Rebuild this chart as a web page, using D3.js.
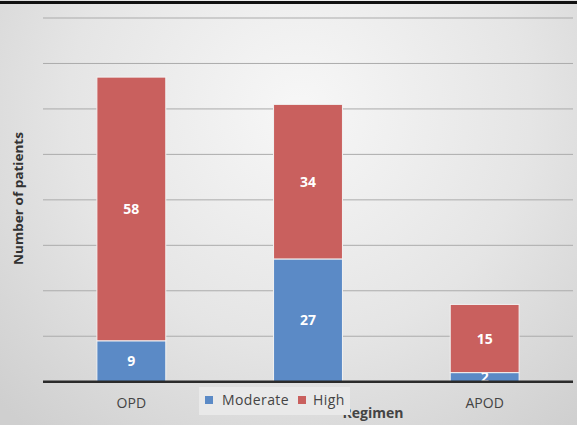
<!DOCTYPE html>
<html>
<head>
<meta charset="utf-8">
<script src="https://cdnjs.cloudflare.com/ajax/libs/d3/7.8.5/d3.min.js"></script>
<style>
  html, body { margin: 0; padding: 0; background: #fff; }
  svg { display: block; }
  text { font-family: "Open Sans", "Noto Sans", sans-serif; }
</style>
</head>
<body>
<svg id="chart" width="577" height="425"></svg>
<script>
// Patients per regimen, split by risk level
const categories = ["OPD", "MPD", "APOD"];
const moderate = [9, 27, 2];
const high = [58, 34, 15];
const seriesNames = ["Moderate", "High"];
const yTicks = [0, 10, 20, 30, 40, 50, 60, 70, 80];

const W = 577, H = 425;
const plot = { left: 43, right: 573, top: 18, bottom: 381.7 };
const colors = { Moderate: "#5b8ac6", High: "#c9605e" };

const svg = d3.select("#chart");

// Soft grey backdrop, brighter towards the upper middle
const defs = svg.append("defs");
const grad = defs.append("radialGradient")
  .attr("id", "bg").attr("gradientUnits", "userSpaceOnUse")
  .attr("cx", 300).attr("cy", 110).attr("r", 420);
grad.append("stop").attr("offset", "0%").attr("stop-color", "#f7f7f7");
grad.append("stop").attr("offset", "55%").attr("stop-color", "#e5e5e5");
grad.append("stop").attr("offset", "100%").attr("stop-color", "#cfcfcf");
svg.append("rect").attr("width", W).attr("height", H).attr("fill", "url(#bg)");

// Frame edge along the top
svg.append("rect").attr("x", 0).attr("y", 1).attr("width", W).attr("height", 3).attr("fill", "#111");

const x = d3.scaleBand().domain(categories)
  .range([plot.left, plot.right]).paddingInner(0.61).paddingOuter(0.305);
const y = d3.scaleLinear().domain([0, 80]).range([plot.bottom, plot.top]);

// Horizontal gridlines
svg.append("g").selectAll("line").data(yTicks.filter(t => t > 0)).join("line")
  .attr("x1", plot.left).attr("x2", plot.right)
  .attr("y1", d => y(d)).attr("y2", d => y(d))
  .attr("stroke", "#ababab").attr("stroke-width", 1);

const rows = categories.map((c, i) => ({ cat: c, Moderate: moderate[i], High: high[i] }));
const stacked = d3.stack().keys(seriesNames)(rows);

const layers = svg.append("g").selectAll("g").data(stacked).join("g")
  .attr("fill", d => colors[d.key]);
layers.selectAll("rect").data(d => d).join("rect")
  .attr("x", d => x(d.data.cat))
  .attr("width", x.bandwidth())
  .attr("y", d => y(d[1]))
  .attr("height", d => y(d[0]) - y(d[1]))
  .attr("stroke", "#f2f2f2").attr("stroke-width", 1);

// Value labels inside each segment
layers.selectAll("text").data(d => d).join("text")
  .attr("x", d => x(d.data.cat) + x.bandwidth() / 2)
  .attr("y", d => (y(d[0]) + y(d[1])) / 2)
  .attr("dy", "0.36em")
  .attr("text-anchor", "middle")
  .attr("fill", "#fff").attr("font-weight", "bold").attr("font-size", 14)
  .text(d => d[1] - d[0]);

// Baseline
svg.append("line").attr("x1", plot.left).attr("x2", plot.right)
  .attr("y1", plot.bottom).attr("y2", plot.bottom)
  .attr("stroke", "#2b2b2b").attr("stroke-width", 2.5);

// Category axis labels
const xAxis = d3.axisBottom(x).tickSize(0).tickPadding(0);
const gx = svg.append("g").attr("transform", `translate(0,${plot.bottom})`).call(xAxis);
gx.select(".domain").remove();
gx.selectAll("text")
  .attr("y", 26).attr("dy", 0)
  .attr("font-size", 14).attr("fill", "#444")
  .style("font-family", "'Open Sans', sans-serif");

// Axis titles
svg.append("text")
  .attr("transform", `translate(23,198.5) rotate(-90)`)
  .attr("text-anchor", "middle")
  .attr("font-weight", "bold").attr("font-size", 13).attr("fill", "#333")
  .attr("textLength", 133).attr("lengthAdjust", "spacingAndGlyphs")
  .text("Number of patients");

svg.append("text")
  .attr("x", 373).attr("y", 418).attr("text-anchor", "middle")
  .attr("font-weight", "bold").attr("font-size", 14).attr("fill", "#444")
  .text("Regimen");

// Legend, drawn on top of the axis title
const legend = svg.append("g");
legend.append("rect").attr("x", 199).attr("y", 387).attr("width", 151).attr("height", 28)
  .attr("fill", "#e9e9e9");
const legendItems = [
  { name: "Moderate", sx: 205, tx: 222 },
  { name: "High", sx: 298, tx: 313 }
];
legend.selectAll("rect.sw").data(legendItems).join("rect").attr("class", "sw")
  .attr("x", d => d.sx).attr("y", 396).attr("width", 8).attr("height", 8)
  .attr("fill", d => colors[d.name]);
legend.selectAll("text").data(legendItems).join("text")
  .attr("x", d => d.tx).attr("y", 405)
  .attr("font-size", 14).attr("fill", "#444").attr("letter-spacing", 0.4)
  .text(d => d.name);
</script>
</body>
</html>
